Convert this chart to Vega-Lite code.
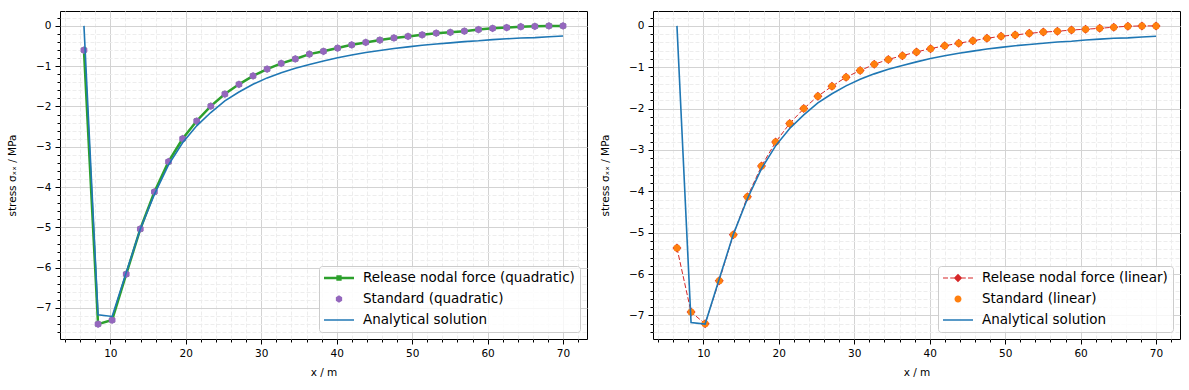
{
"$schema":"https://vega.github.io/schema/vega-lite/v6.json",
"padding":{"left":7,"top":10,"right":5,"bottom":5},
"bounds":"flush",
"spacing":66,
"datasets":{"d":[
{"x":6.5,"v":-0.60,"s":"rq"},{"x":8.368,"v":-7.40,"s":"rq"},{"x":10.235,"v":-7.30,"s":"rq"},{"x":12.103,"v":-6.16,"s":"rq"},{"x":13.971,"v":-5.04,"s":"rq"},{"x":15.838,"v":-4.12,"s":"rq"},{"x":17.706,"v":-3.37,"s":"rq"},{"x":19.574,"v":-2.80,"s":"rq"},{"x":21.441,"v":-2.36,"s":"rq"},{"x":23.309,"v":-1.99,"s":"rq"},{"x":25.176,"v":-1.69,"s":"rq"},{"x":27.044,"v":-1.45,"s":"rq"},{"x":28.912,"v":-1.24,"s":"rq"},{"x":30.779,"v":-1.07,"s":"rq"},{"x":32.647,"v":-0.93,"s":"rq"},{"x":34.515,"v":-0.82,"s":"rq"},{"x":36.382,"v":-0.70,"s":"rq"},{"x":38.25,"v":-0.63,"s":"rq"},{"x":40.118,"v":-0.55,"s":"rq"},{"x":41.985,"v":-0.47,"s":"rq"},{"x":43.853,"v":-0.41,"s":"rq"},{"x":45.721,"v":-0.35,"s":"rq"},{"x":47.588,"v":-0.30,"s":"rq"},{"x":49.456,"v":-0.26,"s":"rq"},{"x":51.324,"v":-0.22,"s":"rq"},{"x":53.191,"v":-0.18,"s":"rq"},{"x":55.059,"v":-0.16,"s":"rq"},{"x":56.926,"v":-0.13,"s":"rq"},{"x":58.794,"v":-0.09,"s":"rq"},{"x":60.662,"v":-0.06,"s":"rq"},{"x":62.529,"v":-0.04,"s":"rq"},{"x":64.397,"v":-0.02,"s":"rq"},{"x":66.265,"v":-0.01,"s":"rq"},{"x":68.132,"v":0.0,"s":"rq"},{"x":70,"v":0.0,"s":"rq"},
{"x":6.5,"v":-0.60,"s":"sq"},{"x":8.368,"v":-7.40,"s":"sq"},{"x":10.235,"v":-7.30,"s":"sq"},{"x":12.103,"v":-6.16,"s":"sq"},{"x":13.971,"v":-5.04,"s":"sq"},{"x":15.838,"v":-4.12,"s":"sq"},{"x":17.706,"v":-3.37,"s":"sq"},{"x":19.574,"v":-2.80,"s":"sq"},{"x":21.441,"v":-2.36,"s":"sq"},{"x":23.309,"v":-1.99,"s":"sq"},{"x":25.176,"v":-1.69,"s":"sq"},{"x":27.044,"v":-1.45,"s":"sq"},{"x":28.912,"v":-1.24,"s":"sq"},{"x":30.779,"v":-1.07,"s":"sq"},{"x":32.647,"v":-0.93,"s":"sq"},{"x":34.515,"v":-0.82,"s":"sq"},{"x":36.382,"v":-0.70,"s":"sq"},{"x":38.25,"v":-0.63,"s":"sq"},{"x":40.118,"v":-0.55,"s":"sq"},{"x":41.985,"v":-0.47,"s":"sq"},{"x":43.853,"v":-0.41,"s":"sq"},{"x":45.721,"v":-0.35,"s":"sq"},{"x":47.588,"v":-0.30,"s":"sq"},{"x":49.456,"v":-0.26,"s":"sq"},{"x":51.324,"v":-0.22,"s":"sq"},{"x":53.191,"v":-0.18,"s":"sq"},{"x":55.059,"v":-0.16,"s":"sq"},{"x":56.926,"v":-0.13,"s":"sq"},{"x":58.794,"v":-0.09,"s":"sq"},{"x":60.662,"v":-0.06,"s":"sq"},{"x":62.529,"v":-0.04,"s":"sq"},{"x":64.397,"v":-0.02,"s":"sq"},{"x":66.265,"v":-0.01,"s":"sq"},{"x":68.132,"v":0.0,"s":"sq"},{"x":70,"v":0.0,"s":"sq"},
{"x":6.5,"v":0.0,"s":"an"},{"x":8.368,"v":-7.17,"s":"an"},{"x":10.235,"v":-7.21,"s":"an"},{"x":12.103,"v":-6.12,"s":"an"},{"x":13.971,"v":-5.04,"s":"an"},{"x":15.838,"v":-4.18,"s":"an"},{"x":17.706,"v":-3.45,"s":"an"},{"x":19.574,"v":-2.90,"s":"an"},{"x":21.441,"v":-2.48,"s":"an"},{"x":23.309,"v":-2.15,"s":"an"},{"x":25.176,"v":-1.86,"s":"an"},{"x":27.044,"v":-1.64,"s":"an"},{"x":28.912,"v":-1.45,"s":"an"},{"x":30.779,"v":-1.29,"s":"an"},{"x":32.647,"v":-1.16,"s":"an"},{"x":34.515,"v":-1.05,"s":"an"},{"x":36.382,"v":-0.96,"s":"an"},{"x":38.25,"v":-0.87,"s":"an"},{"x":40.118,"v":-0.79,"s":"an"},{"x":41.985,"v":-0.72,"s":"an"},{"x":43.853,"v":-0.66,"s":"an"},{"x":45.721,"v":-0.61,"s":"an"},{"x":47.588,"v":-0.56,"s":"an"},{"x":49.456,"v":-0.52,"s":"an"},{"x":51.324,"v":-0.48,"s":"an"},{"x":53.191,"v":-0.45,"s":"an"},{"x":55.059,"v":-0.42,"s":"an"},{"x":56.926,"v":-0.39,"s":"an"},{"x":58.794,"v":-0.37,"s":"an"},{"x":60.662,"v":-0.34,"s":"an"},{"x":62.529,"v":-0.32,"s":"an"},{"x":64.397,"v":-0.30,"s":"an"},{"x":66.265,"v":-0.29,"s":"an"},{"x":68.132,"v":-0.27,"s":"an"},{"x":70,"v":-0.25,"s":"an"},
{"x":6.5,"v":-5.37,"s":"rl"},{"x":8.368,"v":-6.92,"s":"rl"},{"x":10.235,"v":-7.20,"s":"rl"},{"x":12.103,"v":-6.16,"s":"rl"},{"x":13.971,"v":-5.05,"s":"rl"},{"x":15.838,"v":-4.13,"s":"rl"},{"x":17.706,"v":-3.39,"s":"rl"},{"x":19.574,"v":-2.81,"s":"rl"},{"x":21.441,"v":-2.36,"s":"rl"},{"x":23.309,"v":-2.00,"s":"rl"},{"x":25.176,"v":-1.70,"s":"rl"},{"x":27.044,"v":-1.46,"s":"rl"},{"x":28.912,"v":-1.24,"s":"rl"},{"x":30.779,"v":-1.08,"s":"rl"},{"x":32.647,"v":-0.93,"s":"rl"},{"x":34.515,"v":-0.81,"s":"rl"},{"x":36.382,"v":-0.72,"s":"rl"},{"x":38.25,"v":-0.63,"s":"rl"},{"x":40.118,"v":-0.55,"s":"rl"},{"x":41.985,"v":-0.48,"s":"rl"},{"x":43.853,"v":-0.42,"s":"rl"},{"x":45.721,"v":-0.36,"s":"rl"},{"x":47.588,"v":-0.30,"s":"rl"},{"x":49.456,"v":-0.25,"s":"rl"},{"x":51.324,"v":-0.22,"s":"rl"},{"x":53.191,"v":-0.18,"s":"rl"},{"x":55.059,"v":-0.15,"s":"rl"},{"x":56.926,"v":-0.13,"s":"rl"},{"x":58.794,"v":-0.10,"s":"rl"},{"x":60.662,"v":-0.08,"s":"rl"},{"x":62.529,"v":-0.06,"s":"rl"},{"x":64.397,"v":-0.03,"s":"rl"},{"x":66.265,"v":-0.01,"s":"rl"},{"x":68.132,"v":0.0,"s":"rl"},{"x":70,"v":0.0,"s":"rl"},
{"x":6.5,"v":-5.37,"s":"sl"},{"x":8.368,"v":-6.92,"s":"sl"},{"x":10.235,"v":-7.20,"s":"sl"},{"x":12.103,"v":-6.16,"s":"sl"},{"x":13.971,"v":-5.05,"s":"sl"},{"x":15.838,"v":-4.13,"s":"sl"},{"x":17.706,"v":-3.39,"s":"sl"},{"x":19.574,"v":-2.81,"s":"sl"},{"x":21.441,"v":-2.36,"s":"sl"},{"x":23.309,"v":-2.00,"s":"sl"},{"x":25.176,"v":-1.70,"s":"sl"},{"x":27.044,"v":-1.46,"s":"sl"},{"x":28.912,"v":-1.24,"s":"sl"},{"x":30.779,"v":-1.08,"s":"sl"},{"x":32.647,"v":-0.93,"s":"sl"},{"x":34.515,"v":-0.81,"s":"sl"},{"x":36.382,"v":-0.72,"s":"sl"},{"x":38.25,"v":-0.63,"s":"sl"},{"x":40.118,"v":-0.55,"s":"sl"},{"x":41.985,"v":-0.48,"s":"sl"},{"x":43.853,"v":-0.42,"s":"sl"},{"x":45.721,"v":-0.36,"s":"sl"},{"x":47.588,"v":-0.30,"s":"sl"},{"x":49.456,"v":-0.25,"s":"sl"},{"x":51.324,"v":-0.22,"s":"sl"},{"x":53.191,"v":-0.18,"s":"sl"},{"x":55.059,"v":-0.15,"s":"sl"},{"x":56.926,"v":-0.13,"s":"sl"},{"x":58.794,"v":-0.10,"s":"sl"},{"x":60.662,"v":-0.08,"s":"sl"},{"x":62.529,"v":-0.06,"s":"sl"},{"x":64.397,"v":-0.03,"s":"sl"},{"x":66.265,"v":-0.01,"s":"sl"},{"x":68.132,"v":0.0,"s":"sl"},{"x":70,"v":0.0,"s":"sl"}
]},
"data":{"name":"d"},
"hconcat":[
{
"width":527,"height":328,
"encoding":{
"x":{"field":"x","type":"quantitative","scale":{"domain":[3.325,73.175],"nice":false,"zero":false},
"axis":{"values":[4,6,8,10,12,14,16,18,20,22,24,26,28,30,32,34,36,38,40,42,44,46,48,50,52,54,56,58,60,62,64,66,68,70,72],"title":"x / m","labelExpr":"datum.value % 10 === 0 ? format(datum.value,'d') : ''","labelOverlap":false,"labelFlush":false,"grid":true,
"gridColor":{"condition":{"test":"datum.value % 10 === 0","value":"#d3d3d3"},"value":"#ededed"},
"gridDash":{"condition":{"test":"datum.value % 10 === 0","value":[]},"value":[4,2]},
"tickSize":{"condition":{"test":"datum.value % 10 === 0","value":5},"value":3},
"tickColor":"#000","tickWidth":1,"domain":false,"labelFontSize":10.5,"labelColor":"#000","labelPadding":4,"titleFontSize":10.5,"titleFontWeight":"normal","titleColor":"#000","titlePadding":9}},
"y":{"field":"v","type":"quantitative","scale":{"domain":[-7.77,0.37],"nice":false,"zero":false},
"axis":{"values":[-7.6,-7.4,-7.2,-7.0,-6.8,-6.6,-6.4,-6.2,-6.0,-5.8,-5.6,-5.4,-5.2,-5.0,-4.8,-4.6,-4.4,-4.2,-4.0,-3.8,-3.6,-3.4,-3.2,-3.0,-2.8,-2.6,-2.4,-2.2,-2.0,-1.8,-1.6,-1.4,-1.2,-1.0,-0.8,-0.6,-0.4,-0.2,0,0.2],"title":"stress σₓₓ / MPa","labelExpr":"abs(datum.value - round(datum.value)) < 0.001 ? format(round(datum.value),'d') : ''","labelOverlap":false,"labelFlush":false,"grid":true,
"gridColor":{"condition":{"test":"abs(datum.value - round(datum.value)) < 0.001","value":"#d3d3d3"},"value":"#ededed"},
"gridDash":{"condition":{"test":"abs(datum.value - round(datum.value)) < 0.001","value":[]},"value":[4,2]},
"tickSize":{"condition":{"test":"abs(datum.value - round(datum.value)) < 0.001","value":5},"value":3},
"tickColor":"#000","tickWidth":1,"domain":false,"labelFontSize":10.5,"labelColor":"#000","labelPadding":4,"titleFontSize":10.5,"titleFontWeight":"normal","titleColor":"#000","titlePadding":18}}
},
"layer":[
{"transform":[{"filter":"datum.s === 'rq'"}],"mark":{"type":"line","color":"#2ca02c","strokeWidth":2.5}},
{"transform":[{"filter":"datum.s === 'rq'"}],"mark":{"type":"point","shape":"square","filled":true,"color":"#2ca02c","size":28,"opacity":1}},
{"transform":[{"filter":"datum.s === 'sq'"}],"mark":{"type":"point","shape":"M0,-1L0.866,-0.5L0.866,0.5L0,1L-0.866,0.5L-0.866,-0.5Z","filled":true,"color":"#9467bd","size":60,"opacity":1}},
{"transform":[{"filter":"datum.s === 'an'"}],"mark":{"type":"line","color":"#1f77b4","strokeWidth":1.6}},
{"transform":[{"filter":"indexof(['rq','sq','an'], datum.s) >= 0"}],"mark":{"type":"point","filled":true,"opacity":0},
"encoding":{
"color":{"field":"s","type":"nominal","scale":{"domain":["rq","sq","an"],"range":["#2ca02c","#9467bd","#1f77b4"]},
"legend":{"title":null,"orient":"bottom-right","offset":7,"padding":5,"fillColor":"rgba(255,255,255,0.8)","strokeColor":"#cccccc","cornerRadius":3,"labelFontSize":13.5,"labelColor":"#000","labelFont":"DejaVu Sans","labelLimit":400,"symbolSize":196,"symbolOpacity":1,"symbolStrokeWidth":0,"labelOffset":25,"rowPadding":7,"labelExpr":"datum.label === 'rq' ? 'Release nodal force (quadratic)' : datum.label === 'sq' ? 'Standard (quadratic)' : 'Analytical solution'"}},
"shape":{"field":"s","type":"nominal","scale":{"domain":["rq","sq","an"],"range":["M-1,-0.18H3.286V0.18H-1Z M0.764,-0.379H1.522V0.379H0.764Z","M1.143,-0.52L1.593,-0.26L1.593,0.26L1.143,0.52L0.693,0.26L0.693,-0.26Z","M-1,-0.107H3.286V0.107H-1Z"]},
"legend":{"title":null,"orient":"bottom-right","offset":7,"padding":5,"fillColor":"rgba(255,255,255,0.8)","strokeColor":"#cccccc","cornerRadius":3,"labelFontSize":13.5,"labelColor":"#000","labelFont":"DejaVu Sans","labelLimit":400,"symbolSize":196,"symbolOpacity":1,"symbolStrokeWidth":0,"labelOffset":25,"rowPadding":7,"labelExpr":"datum.label === 'rq' ? 'Release nodal force (quadratic)' : datum.label === 'sq' ? 'Standard (quadratic)' : 'Analytical solution'"}}
}}
]
},
{
"width":527,"height":328,
"encoding":{
"x":{"field":"x","type":"quantitative","scale":{"domain":[3.325,73.175],"nice":false,"zero":false},
"axis":{"values":[4,6,8,10,12,14,16,18,20,22,24,26,28,30,32,34,36,38,40,42,44,46,48,50,52,54,56,58,60,62,64,66,68,70,72],"title":"x / m","labelExpr":"datum.value % 10 === 0 ? format(datum.value,'d') : ''","labelOverlap":false,"labelFlush":false,"grid":true,
"gridColor":{"condition":{"test":"datum.value % 10 === 0","value":"#d3d3d3"},"value":"#ededed"},
"gridDash":{"condition":{"test":"datum.value % 10 === 0","value":[]},"value":[4,2]},
"tickSize":{"condition":{"test":"datum.value % 10 === 0","value":5},"value":3},
"tickColor":"#000","tickWidth":1,"domain":false,"labelFontSize":10.5,"labelColor":"#000","labelPadding":4,"titleFontSize":10.5,"titleFontWeight":"normal","titleColor":"#000","titlePadding":9}},
"y":{"field":"v","type":"quantitative","scale":{"domain":[-7.57,0.36],"nice":false,"zero":false},
"axis":{"values":[-7.4,-7.2,-7.0,-6.8,-6.6,-6.4,-6.2,-6.0,-5.8,-5.6,-5.4,-5.2,-5.0,-4.8,-4.6,-4.4,-4.2,-4.0,-3.8,-3.6,-3.4,-3.2,-3.0,-2.8,-2.6,-2.4,-2.2,-2.0,-1.8,-1.6,-1.4,-1.2,-1.0,-0.8,-0.6,-0.4,-0.2,0,0.2],"title":"stress σₓₓ / MPa","labelExpr":"abs(datum.value - round(datum.value)) < 0.001 ? format(round(datum.value),'d') : ''","labelOverlap":false,"labelFlush":false,"grid":true,
"gridColor":{"condition":{"test":"abs(datum.value - round(datum.value)) < 0.001","value":"#d3d3d3"},"value":"#ededed"},
"gridDash":{"condition":{"test":"abs(datum.value - round(datum.value)) < 0.001","value":[]},"value":[4,2]},
"tickSize":{"condition":{"test":"abs(datum.value - round(datum.value)) < 0.001","value":5},"value":3},
"tickColor":"#000","tickWidth":1,"domain":false,"labelFontSize":10.5,"labelColor":"#000","labelPadding":4,"titleFontSize":10.5,"titleFontWeight":"normal","titleColor":"#000","titlePadding":18}}
},
"layer":[
{"transform":[{"filter":"datum.s === 'rl'"}],"mark":{"type":"line","color":"#d62728","strokeWidth":1,"strokeDash":[5,2.2]}},
{"transform":[{"filter":"datum.s === 'rl'"}],"mark":{"type":"point","shape":"diamond","filled":true,"color":"#d62728","size":81,"opacity":1}},
{"transform":[{"filter":"datum.s === 'sl'"}],"mark":{"type":"point","shape":"circle","filled":true,"color":"#ff7f0e","size":49,"opacity":1}},
{"transform":[{"filter":"datum.s === 'an'"}],"mark":{"type":"line","color":"#1f77b4","strokeWidth":1.6}},
{"transform":[{"filter":"indexof(['rl','sl','an'], datum.s) >= 0"}],"mark":{"type":"point","filled":true,"opacity":0},
"encoding":{
"color":{"field":"s","type":"nominal","scale":{"domain":["rl","sl","an"],"range":["#d62728","#ff7f0e","#1f77b4"]},
"legend":{"title":null,"orient":"bottom-right","offset":7,"padding":5,"fillColor":"rgba(255,255,255,0.8)","strokeColor":"#cccccc","cornerRadius":3,"labelFontSize":13.5,"labelColor":"#000","labelFont":"DejaVu Sans","labelLimit":400,"symbolSize":196,"symbolOpacity":1,"symbolStrokeWidth":0,"labelOffset":25,"rowPadding":7,"labelExpr":"datum.label === 'rl' ? 'Release nodal force (linear)' : datum.label === 'sl' ? 'Standard (linear)' : 'Analytical solution'"}},
"shape":{"field":"s","type":"nominal","scale":{"domain":["rl","sl","an"],"range":["M-1,-0.071H-0.286V0.071H-1Z M0.029,-0.071H0.743V0.071H0.029Z M1.543,-0.071H2.257V0.071H1.543Z M2.572,-0.071H3.286V0.071H2.572Z M1.143,-0.6L1.743,0L1.143,0.6L0.543,0Z","M0.643,0A0.5,0.5 0 1,1 1.643,0A0.5,0.5 0 1,1 0.643,0Z","M-1,-0.107H3.286V0.107H-1Z"]},
"legend":{"title":null,"orient":"bottom-right","offset":7,"padding":5,"fillColor":"rgba(255,255,255,0.8)","strokeColor":"#cccccc","cornerRadius":3,"labelFontSize":13.5,"labelColor":"#000","labelFont":"DejaVu Sans","labelLimit":400,"symbolSize":196,"symbolOpacity":1,"symbolStrokeWidth":0,"labelOffset":25,"rowPadding":7,"labelExpr":"datum.label === 'rl' ? 'Release nodal force (linear)' : datum.label === 'sl' ? 'Standard (linear)' : 'Analytical solution'"}}
}}
]
}
],
"resolve":{"scale":{"x":"independent","y":"independent","color":"independent","shape":"independent"}},
"config":{"font":"DejaVu Sans","view":{"stroke":"#000","strokeWidth":1}}
}
